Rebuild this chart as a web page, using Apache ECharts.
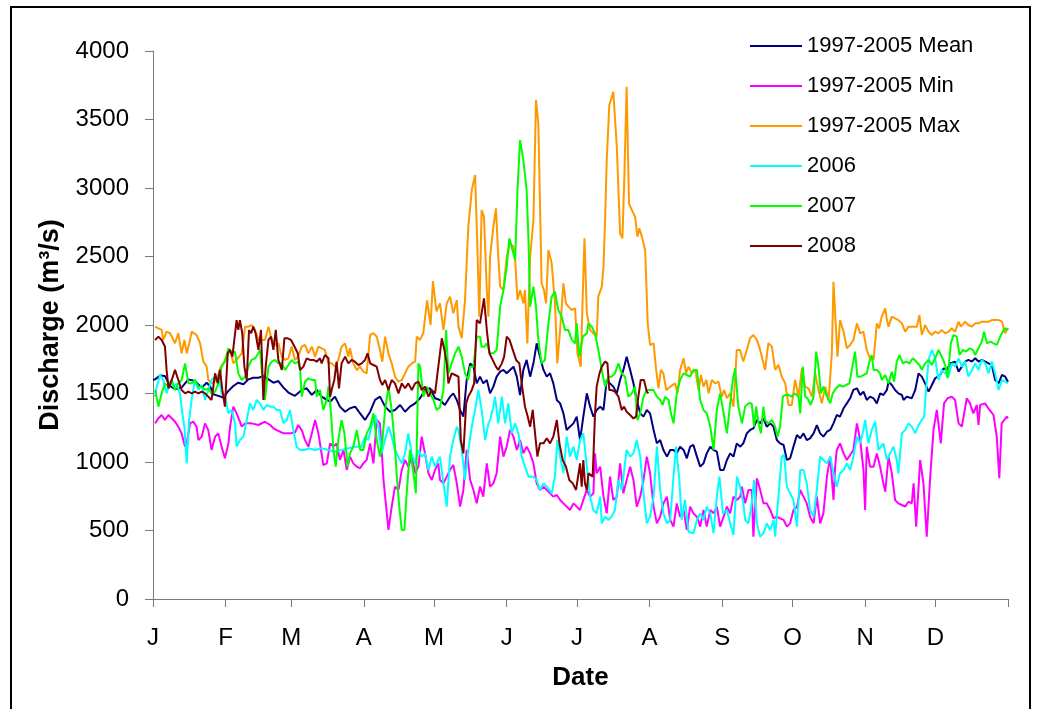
<!DOCTYPE html>
<html><head><meta charset="utf-8">
<script src="https://cdn.jsdelivr.net/npm/echarts@6/dist/echarts.min.js"></script>
<style>html,body{margin:0;padding:0;background:#fff}#c{width:1038px;height:709px}</style>
</head><body><div id="c"></div>
<script>
// Month starts (day of year) and tick labels
const monthStarts = [0,31,59,90,120,151,181,212,243,273,304,334];
const monthLabels = ['J','F','M','A','M','J','J','A','S','O','N','D'];
const tickDays = [0,31,59,90,120,151,181,212,243,273,304,334,365];
const seriesNames = ['1997-2005 Mean','1997-2005 Min','1997-2005 Max','2006','2007','2008'];

// [day of year, discharge m3/s]
const mean = [[0,1600],[0.9,1603],[3,1632],[5.1,1627],[7.3,1555],[9.4,1531],[12.2,1543],[15.1,1603],[17.9,1591],[20.8,1543],[22.9,1579],[24.3,1555],[25.8,1495],[27.9,1483],[30,1471],[32.2,1519],[34.3,1555],[36.4,1579],[38.6,1567],[40.7,1603],[42.8,1615],[45,1615],[47.1,1627],[49.3,1603],[51.4,1579],[53.5,1591],[55.7,1543],[57.8,1507],[60.6,1483],[63.5,1526],[65.6,1538],[67.8,1490],[69.9,1526],[72,1477],[74.2,1453],[75.6,1440],[77.7,1477],[79.8,1404],[82,1367],[84.1,1392],[86.3,1404],[88.4,1355],[90.5,1307],[92.7,1367],[94.8,1453],[96.9,1477],[99.1,1404],[101.2,1367],[103.3,1380],[105.5,1416],[107.6,1367],[109.7,1404],[111.9,1428],[114,1465],[116.1,1526],[118.3,1538],[120.4,1465],[122.5,1453],[124.6,1416],[126.8,1477],[128.2,1501],[129.7,1453],[131.1,1380],[132.5,1331],[133.9,1599],[135.4,1720],[136.8,1696],[138.2,1574],[139.6,1623],[141,1574],[142.5,1599],[143.9,1501],[145.3,1550],[146.7,1623],[148.2,1660],[149.6,1672],[151,1648],[152.4,1672],[153.9,1696],[155.3,1623],[156.7,1489],[158.1,1672],[159.5,1745],[161,1623],[162.4,1720],[163.8,1866],[165.2,1769],[166.7,1672],[168.1,1623],[169.5,1648],[170.9,1574],[172.4,1453],[173.8,1428],[175.2,1355],[176.6,1234],[178,1258],[179.5,1282],[180.9,1331],[182.3,1160],[183.7,1331],[185.2,1501],[186.6,1404],[188,1331],[189.4,1380],[190.9,1404],[192.3,1380],[193.7,1599],[195.1,1574],[196.5,1550],[198,1501],[199.4,1599],[200.8,1672],[202.2,1769],[203.7,1672],[205.1,1574],[206.5,1453],[208,1355],[209.4,1331],[210.8,1380],[212.2,1355],[213.7,1234],[215.1,1136],[216.5,1160],[217.9,1088],[219.4,1039],[220.8,1088],[222.2,1088],[223.6,1063],[225,1112],[226.5,1088],[227.9,1027],[229.3,1112],[230.7,1124],[232.2,1039],[233.6,966],[235,990],[236.4,1063],[237.9,1112],[239.3,1088],[240.7,1076],[242.1,942],[243.6,942],[245,1015],[246.4,1063],[247.8,1039],[249.2,1136],[250.7,1112],[252,1136],[253.5,1209],[254.9,1234],[256.3,1246],[257.8,1307],[259.2,1282],[260.6,1319],[262,1258],[263.5,1282],[264.9,1258],[266.3,1160],[267.7,1136],[269.2,1124],[270.6,1015],[272,1027],[273.4,1112],[274.9,1197],[276.3,1173],[277.7,1209],[279.1,1160],[280.5,1173],[282,1209],[283.4,1270],[284.8,1209],[286.2,1185],[287.7,1221],[289.1,1234],[290.5,1282],[291.9,1343],[293.3,1331],[294.8,1392],[296.2,1428],[297.6,1465],[299,1526],[300.5,1538],[301.9,1489],[303.3,1514],[304.7,1453],[306.1,1477],[307.6,1465],[309,1428],[310.4,1501],[311.8,1489],[313.3,1526],[314,1586],[315.4,1562],[316.8,1526],[318.2,1501],[319.7,1489],[320.4,1453],[321.8,1477],[323.9,1465],[325.4,1526],[326.8,1647],[328.2,1623],[329.6,1574],[331.1,1514],[332.5,1562],[333.9,1611],[336,1635],[337.5,1684],[338.9,1672],[340.3,1720],[342.4,1733],[343.9,1660],[345.3,1696],[346.7,1733],[348.1,1745],[349.6,1733],[351,1757],[352.4,1733],[353.8,1745],[355.3,1733],[356.7,1720],[358.1,1708],[359.5,1599],[361,1574],[362.4,1635],[363.8,1623],[365,1586]];

const minQ = [[0.9,1282],[2.3,1319],[3.7,1343],[5.1,1307],[6.6,1343],[8,1319],[9.4,1294],[10.8,1258],[12.2,1209],[13.7,1112],[14.4,1136],[15.8,1282],[17.2,1294],[18.6,1258],[19.4,1160],[20.8,1185],[22.2,1282],[23.6,1233],[25,1088],[26.5,1185],[27.9,1209],[29.3,1112],[30.7,1027],[32.2,1136],[32.9,1258],[34.3,1404],[35.7,1355],[37.1,1294],[37.9,1258],[39.3,1282],[42.1,1282],[45,1270],[47.8,1294],[50,1270],[51.4,1246],[52.8,1233],[54.2,1221],[55.7,1209],[58.5,1209],[60.6,1215],[62,1270],[63.5,1233],[64.9,1160],[66.3,1112],[67.8,1209],[69.2,1307],[70.6,1209],[71.3,1136],[72.7,978],[74.2,990],[75.6,1136],[77,1112],[78.4,1136],[79.8,1015],[81.3,1088],[82.7,942],[84.1,1039],[85.5,990],[87,966],[88.4,954],[89.8,990],[91.2,1015],[92.7,1136],[94.1,990],[95.5,1307],[96.9,1282],[98.4,869],[100.5,504],[101.9,674],[103.3,820],[104.8,796],[106.2,942],[107.6,1015],[109,966],[110.5,1039],[111.9,918],[113.3,966],[114.7,1185],[116.1,1063],[117.6,918],[119,869],[120.4,942],[121.8,990],[122.5,869],[124,844],[125.4,893],[126.8,942],[128.2,978],[129.7,844],[131.1,674],[132.5,796],[133.9,1088],[135.4,869],[136.8,796],[138.2,698],[139.6,820],[141,747],[142.5,990],[143.9,820],[145.3,844],[146.7,918],[148.2,1185],[149.6,1039],[151,1112],[152.4,1234],[153.9,1185],[155.3,1088],[156.7,1161],[158.1,1063],[159.5,1112],[161,1063],[162.4,990],[163.8,844],[165.2,796],[166.7,820],[168.1,796],[169.5,771],[170.9,747],[172.4,759],[173.8,723],[175.2,698],[176.6,674],[178,650],[179.5,698],[180.9,674],[182.3,650],[183.7,723],[185.2,796],[186.6,747],[188,771],[188.7,1063],[189.4,918],[190.9,966],[192.3,747],[193.7,625],[195.1,893],[196.5,723],[198,747],[199.4,990],[200.8,771],[202.2,869],[203.7,966],[205.1,869],[206.5,674],[208,747],[209.4,869],[210.8,1039],[212.2,918],[213.7,674],[215.1,552],[216.5,601],[217.9,698],[219.4,747],[220.8,577],[222.2,528],[223.6,698],[225,601],[226.5,650],[227.9,504],[229.3,674],[230.7,625],[232.2,601],[233.6,528],[235,650],[236.4,528],[237.9,650],[239.3,625],[240.7,674],[242.1,528],[243.6,601],[245,674],[246.4,625],[247.8,747],[249.3,723],[250.7,747],[251.4,820],[252.8,698],[254.2,796],[255.6,796],[256.3,455],[257.8,881],[259.2,796],[260.6,698],[262,698],[263.5,650],[264.9,589],[266.3,601],[267.7,589],[269.2,577],[270.6,528],[272,552],[273.4,650],[274.9,674],[276.3,796],[277.7,747],[279.1,698],[280.5,601],[282,552],[283.4,747],[284.8,552],[286.2,625],[287.7,893],[289.1,1039],[290.5,723],[291.2,966],[291.9,1088],[293.3,1136],[294.8,1063],[296.2,1015],[297.6,1051],[299,1088],[300.5,1282],[301.9,1160],[303.3,942],[304,650],[304.7,1112],[306.1,966],[307.6,966],[309,1063],[310.4,966],[311.8,844],[312.6,783],[314,1039],[315.4,917],[316.8,723],[318.2,698],[319.7,686],[321.1,674],[322.5,710],[323.9,698],[324.7,844],[325.8,528],[327.5,1015],[328.9,844],[330.3,455],[331.8,893],[333.2,1234],[334.6,1380],[336.3,1136],[337.7,1428],[339.2,1465],[341,1477],[342.4,1453],[343.9,1282],[345.3,1258],[347.4,1465],[348.8,1428],[350.2,1355],[351.7,1416],[352.4,1270],[353.1,1416],[355.2,1428],[356.6,1392],[358.8,1343],[360.2,1185],[361.3,881],[362.3,1282],[364.5,1331],[365,1319]];

const maxQ = [[0.9,1988],[2.3,1976],[3.7,1964],[4.4,1891],[5.8,1952],[7.3,1940],[9.4,1867],[10.8,1940],[12.2,1794],[13.4,1891],[14.4,1794],[15.5,1867],[16.5,1952],[18.6,1927],[20.1,1867],[21.5,1733],[22.9,1696],[23.6,1599],[25,1574],[27.2,1599],[28.6,1684],[30,1720],[31.5,1769],[32.9,1818],[34.3,1720],[35.7,1745],[37.9,1794],[39.3,1988],[40.7,1988],[42.1,2000],[43.6,1964],[45,1891],[46.4,1891],[47.8,1891],[49.3,1988],[50.7,1891],[52.1,1855],[53.5,1867],[55,1769],[56.4,1745],[57.8,1757],[59.2,1843],[60.6,1745],[62,1769],[63.5,1843],[64.9,1855],[66.3,1793],[67.8,1842],[69.2,1769],[70.6,1842],[72,1830],[73.4,1818],[74.9,1720],[76.3,1720],[77.7,1696],[79.1,1745],[80.5,1842],[82,1866],[83.4,1769],[84.1,1830],[85.5,1720],[87,1672],[88.4,1696],[89.8,1659],[91.2,1647],[92.7,1927],[94.1,1940],[95.5,1915],[96.9,1818],[97.9,1732],[99.1,1915],[100.5,1793],[101.9,1720],[103.3,1623],[104.8,1586],[106.2,1599],[107.6,1647],[109,1696],[110.5,1720],[111.9,1732],[112.6,1915],[114,1891],[115.4,1940],[117,2180],[118.5,2000],[119.5,2320],[121,2100],[122.5,2158],[124,1964],[125.4,2158],[126.8,2207],[128.2,2085],[129.7,2182],[130.4,1988],[131.8,1903],[133.2,2182],[134.6,2718],[136.1,2985],[137.5,3095],[138.5,2548],[139.3,2061],[140.3,2839],[141.3,2791],[142.5,2255],[143.2,2061],[143.9,2499],[145.3,2718],[146.4,2852],[147.4,2499],[148.2,2280],[149.6,2255],[151,2499],[152.4,2596],[153.9,2572],[154.6,2475],[155.6,2182],[156.7,2255],[158.1,2158],[158.8,2255],[159.8,1866],[161,2499],[162.4,2766],[163.5,3642],[164.5,3472],[165.9,2304],[166.9,2255],[167.8,2158],[168.8,2548],[170.2,2450],[171.6,2158],[172.6,1720],[173.8,1964],[175.2,2304],[176.3,2158],[177.3,2134],[178.8,2110],[180.2,2122],[181.2,1794],[182.6,1696],[183.4,2182],[184.2,2633],[185.2,2085],[186.6,1964],[188,1939],[189.4,1915],[190.1,2207],[191.6,2280],[192.3,2426],[193,2766],[193.7,3204],[194.8,3606],[196.5,3703],[198,3302],[199.4,2669],[200.4,2633],[201.2,3066],[202.2,3739],[203.2,2888],[204.4,2839],[205.8,2791],[206.8,2645],[207.6,2706],[208.7,2645],[210.1,2547],[211.2,2012],[212.2,1854],[213.7,1866],[214.8,1672],[215.8,1538],[216.8,1672],[217.9,1647],[219.1,1525],[220.8,1550],[222.9,1574],[223.9,1501],[225,1672],[226.5,1757],[227.6,1647],[228.6,1696],[230,1647],[231.5,1672],[232.9,1525],[233.9,1635],[235,1550],[236.2,1599],[237.2,1501],[238.6,1599],[240,1574],[241.4,1586],[242.8,1477],[243.8,1525],[245,1465],[246.4,1501],[247.8,1404],[249.2,1818],[250.6,1818],[252,1733],[253.5,1818],[254.9,1903],[256.3,1927],[257.8,1891],[259.2,1818],[259.9,1830],[261.3,1672],[262.7,1867],[264.2,1842],[265.6,1672],[267,1709],[268.4,1623],[269.9,1574],[271.3,1416],[272.7,1416],[274.1,1599],[275.6,1477],[277,1684],[278.4,1550],[279.8,1538],[281.3,1477],[282.7,1647],[284.1,1526],[285.5,1428],[287,1550],[288.4,1453],[289.8,1794],[290.5,2316],[291.2,2085],[292.2,1769],[293.3,2036],[294.8,1951],[296.2,1830],[297.6,1855],[299,1891],[300.5,2012],[301.9,1939],[303.3,1951],[304.7,1818],[306.1,1757],[307.6,1745],[309,2012],[310,1976],[311.1,2061],[312.6,2122],[313.3,2036],[314,1988],[315.4,2061],[316.8,2049],[318.2,2036],[319.7,2012],[321.1,1951],[322.5,1988],[324.7,1988],[326.1,1988],[327.2,2073],[328.2,1927],[329.6,2000],[331.1,1951],[332.5,1927],[333.9,1951],[335.3,1939],[336.7,1964],[338.2,1939],[339.6,1951],[341,1976],[342.4,1951],[343.9,2024],[344.9,1988],[346.7,2024],[348.1,2000],[349.6,1988],[351,2012],[352.4,2012],[353.8,2024],[355.3,2024],[356.7,2024],[358.1,2036],[359.5,2036],[361,2036],[362.4,2024],[363.8,1940],[364.8,1976],[365,1964]];

const y2006 = [[0.9,1477],[1.6,1550],[3,1635],[4.4,1599],[5.8,1501],[7.3,1586],[8.7,1550],[10.1,1574],[11.5,1501],[12.5,1355],[13.4,1258],[14.4,990],[15.4,1307],[16.5,1453],[17.9,1599],[19.4,1526],[20.8,1562],[22.2,1453],[23.6,1526],[25,1599],[26.5,1623],[27.9,1623],[29.3,1501],[30.7,1477],[32.2,1355],[33.6,1380],[35,1282],[35.7,1112],[37.1,1160],[38.6,1185],[40,1307],[41.4,1428],[42.8,1380],[44.3,1453],[45.7,1428],[47.1,1380],[48.5,1416],[50,1404],[51.4,1404],[52.8,1380],[54.2,1380],[55.7,1282],[57.1,1307],[58.5,1380],[59.9,1233],[61.3,1112],[62.8,1088],[64.9,1088],[66.3,1100],[69.2,1088],[72,1100],[74.9,1088],[77.7,1075],[80.5,1088],[83.4,1100],[86.2,1112],[89,1112],[90.5,1185],[91.9,1160],[93.3,1258],[94.8,1343],[96.2,1258],[97.6,1063],[99,1160],[100.5,1258],[101.9,1185],[103.3,1088],[104.7,1039],[106.2,990],[107.6,1063],[109,1209],[110.4,1063],[111.9,990],[113.3,1088],[114.7,1039],[116.1,1063],[117.6,942],[119,1039],[120.4,966],[121.8,1015],[122.5,1039],[124,844],[125.4,674],[126.8,1039],[128.2,1161],[129.7,1258],[130.4,1234],[131.8,1088],[133.2,869],[134.6,1088],[136.1,1258],[137.5,1380],[138.9,1526],[140.3,1380],[141.8,1161],[143.2,1282],[143.9,1307],[145.3,1404],[146,1477],[147.4,1282],[148.9,1477],[150.3,1282],[151.7,1428],[153.1,1209],[154.6,1282],[156,1209],[157.4,1039],[158.8,966],[160.3,893],[162.4,893],[163.8,869],[165.2,796],[166.7,844],[168.1,820],[170.2,771],[171.6,893],[172.6,1161],[173.8,1039],[175.2,918],[176.6,1185],[178,1039],[179.5,1112],[180.9,1015],[182.3,1160],[183.7,1209],[185.2,966],[186.6,747],[188,650],[189.4,625],[190.9,747],[191.6,552],[193,601],[194.4,577],[195.8,601],[197.2,650],[198.7,869],[200.1,796],[202.2,1088],[203.7,1039],[205.1,1063],[206.5,1160],[208,1039],[209.4,771],[210.8,552],[212.2,601],[213.7,747],[215.1,1112],[216.5,796],[217.9,625],[219.4,552],[220.8,577],[222.2,893],[223.3,1112],[224.7,869],[225.7,577],[227.1,723],[228.6,491],[230.7,479],[232.2,577],[233.6,625],[235,577],[236.4,674],[237.9,625],[239.3,479],[240.7,747],[241.8,893],[243.3,625],[245,650],[246.4,552],[247.8,467],[249.3,893],[250.6,820],[252,698],[252.8,577],[254.2,552],[255.6,698],[256.6,869],[257.8,552],[259.2,455],[260.6,479],[262,552],[263.5,504],[264.9,577],[265.6,455],[267,747],[268.4,1039],[269.4,1051],[270.6,820],[272,771],[273.4,723],[274.9,528],[276.3,942],[277.7,942],[279.1,844],[280.5,650],[282,601],[283.4,796],[284.8,1039],[286.2,1015],[287.7,990],[289.1,1039],[290.5,918],[291.9,820],[293.3,918],[294.8,942],[296.2,990],[297.6,942],[299,1039],[300.5,1185],[301.9,1136],[303.3,1233],[304,1307],[305.4,1136],[306.8,1233],[308.3,1294],[309.7,1088],[311.8,1136],[313.3,1015],[314.7,1063],[316.1,1112],[317.5,1015],[318.2,917],[319.7,1209],[321.1,1233],[322.5,1282],[323.9,1258],[325.4,1209],[326.8,1270],[328.2,1307],[329.2,1331],[330,1526],[331.1,1745],[332.5,1818],[333.9,1757],[335.3,1599],[336.7,1672],[338.2,1647],[339.6,1623],[341,1720],[342.4,1696],[343.9,1757],[345.3,1696],[346.7,1733],[348.1,1623],[349.6,1672],[351,1720],[352.4,1672],[353.8,1745],[355.3,1720],[356.7,1647],[358.1,1733],[359.5,1647],[361,1526],[362.4,1599],[363.8,1586],[365,1574]];

const y2007 = [[0.9,1526],[2.3,1404],[3.7,1501],[5.1,1574],[6.6,1550],[8,1599],[9.4,1526],[10.8,1574],[12.2,1599],[13.7,1720],[14.4,1720],[15.1,1574],[16.5,1574],[17.9,1599],[19.4,1550],[20.8,1550],[22.2,1526],[23.6,1538],[25,1501],[26.5,1514],[27.9,1574],[29.3,1696],[30.7,1733],[32.2,1830],[33.6,1794],[35,1806],[36.4,1647],[37.9,1599],[39.3,1623],[40.7,1696],[42.1,1745],[43.6,1757],[45,1794],[45.7,1818],[46.4,1672],[47.8,1453],[49.3,1696],[50.7,1733],[52.1,1745],[53.5,1720],[55,1720],[56.4,1672],[57.8,1708],[59.2,1745],[60.6,1720],[62,1732],[62.8,1672],[63.5,1477],[64.9,1586],[66.3,1611],[67.8,1599],[69.2,1599],[69.9,1477],[71.3,1526],[72,1453],[72.7,1380],[74.2,1453],[74.9,1550],[76,1355],[77,1088],[78,966],[79.1,1160],[80.5,1307],[81.7,1209],[83.1,966],[84.1,1063],[85.5,1112],[87,1233],[88.4,1088],[89.8,1088],[91.2,1209],[92.7,1258],[94.1,1355],[95.5,1160],[96.9,1039],[97.9,1160],[99.1,1380],[100.5,1550],[101.9,1380],[103.3,1112],[104,918],[105,698],[106.2,504],[107.3,504],[108.3,771],[109.7,1088],[111.2,918],[112.2,771],[113.3,1720],[114,1696],[115.4,1477],[116.9,1550],[118.3,1501],[119.7,1453],[121.1,1380],[122.5,1400],[124,1526],[125.1,1964],[126.1,1647],[127.5,1720],[129,1794],[130.4,1842],[131.8,1769],[133.2,1647],[134.6,1599],[135.4,1696],[136.8,1696],[138.2,1915],[139.6,1915],[140.3,1842],[141.5,1842],[142.5,1866],[143.9,1794],[145.3,1794],[146.7,1818],[148.2,2134],[149.6,2255],[151,2426],[152.1,2633],[153.1,2572],[154.6,2475],[155.6,2985],[156.7,3350],[158.1,3204],[159.5,2985],[160.3,2621],[161,2134],[162.4,2280],[163.5,2134],[164.5,1891],[165.9,1720],[167.3,1745],[168.8,2012],[170.2,2207],[171.6,2243],[173,2110],[174.5,2061],[175.9,1964],[177.3,1964],[178.8,1891],[180.2,1866],[180.9,2012],[182,1769],[183.5,1915],[185.2,1939],[185.9,2012],[187.3,1988],[188.7,1939],[190.1,1818],[191.6,1672],[193,1550],[194.4,1623],[195.8,1623],[197.2,1647],[198.7,1720],[200.1,1647],[201.5,1623],[202.9,1477],[204.4,1501],[205.8,1550],[206.8,1306],[208,1355],[209.4,1477],[210.8,1525],[212.2,1525],[213.7,1525],[215.1,1477],[216.5,1453],[217.6,1416],[218.6,1477],[220.1,1453],[221.1,1355],[222.2,1282],[223.6,1501],[225,1599],[226.5,1647],[227.9,1635],[229.3,1623],[230.7,1672],[232.2,1672],[233.6,1453],[235,1380],[236.4,1355],[237.9,1258],[239.3,1088],[240.7,1380],[242.1,1501],[243.6,1355],[245,1209],[246.4,1428],[247.5,1599],[248.5,1684],[249.9,1404],[251.4,1282],[252.8,1404],[254.2,1428],[255.6,1428],[256.6,1258],[257.5,1404],[258.5,1282],[259.5,1209],[260.6,1404],[261.3,1307],[262.7,1282],[264.2,1307],[265.6,1258],[266.6,1185],[267.7,1258],[268.9,1477],[269.9,1489],[271.3,1489],[272.7,1477],[274.1,1501],[275.6,1477],[276.3,1355],[277.4,1696],[278.4,1477],[279.4,1465],[280.8,1416],[282,1477],[283.1,1806],[284.1,1696],[285.1,1501],[286.2,1550],[287.7,1477],[289.1,1428],[290.2,1501],[291.6,1538],[293.1,1562],[294.5,1550],[295.9,1562],[297.3,1574],[298.8,1720],[299.7,1806],[300.7,1623],[302.1,1623],[303.3,1635],[304.7,1647],[305.8,1733],[306.8,1781],[307.6,1672],[309,1672],[310.4,1647],[311.1,1599],[312.6,1635],[314,1574],[315.4,1659],[316.4,1586],[317.5,1733],[318.7,1781],[320.1,1720],[321.5,1733],[322.9,1720],[324.4,1757],[325.8,1733],[327.2,1708],[328.2,1672],[329.6,1720],[331.1,1745],[332.5,1708],[333.9,1757],[335.3,1818],[336.7,1769],[338.2,1708],[339.2,1611],[340.6,1866],[341.7,1927],[343.1,1915],[344.3,1781],[345.7,1818],[347.1,1806],[348.6,1830],[350,1818],[351,1781],[352.4,1830],[353.8,1878],[354.8,1951],[356,1866],[357.4,1878],[358.8,1866],[360.2,1855],[361.7,1915],[362.7,1951],[363.8,1976],[365,1964]];

const y2008 = [[0.9,1891],[2.3,1915],[3.7,1891],[5.1,1843],[5.8,1672],[6.6,1538],[8,1599],[9.4,1672],[10.1,1684],[10.8,1599],[12.2,1526],[13.7,1501],[15.1,1514],[16.5,1501],[17.9,1514],[19.4,1501],[20.8,1514],[22.2,1501],[23.6,1477],[25,1453],[26.5,1647],[27.6,1574],[28.6,1672],[29.6,1526],[30.7,1404],[31.9,1794],[32.9,1818],[33.9,1769],[34.7,1891],[35.7,2036],[36.4,1964],[37.1,2036],[38.1,1940],[39,1696],[40,1599],[41,1964],[41.9,1940],[42.8,1988],[43.8,1940],[45,1818],[46.1,1964],[47.1,1453],[48.1,1696],[49.3,1891],[50.4,1915],[51.4,1818],[52.4,1964],[53.5,1745],[55,1672],[56.1,1903],[57.5,1903],[58.9,1891],[60.4,1843],[61.8,1794],[62.8,1672],[64.2,1696],[65.6,1757],[67,1745],[68.5,1745],[69.9,1732],[71.3,1757],[72,1720],[73.4,1781],[74.9,1757],[75.6,1477],[76.6,1550],[77.4,1599],[78.4,1732],[79.4,1538],[80.5,1720],[82,1769],[83.4,1720],[84.8,1745],[86.2,1732],[87.7,1708],[89.1,1720],[90.5,1745],[91.6,1793],[92.7,1720],[94.1,1708],[95.5,1696],[96.9,1599],[97.9,1562],[99.1,1599],[100.5,1526],[101.9,1599],[103.3,1574],[104.8,1501],[106.2,1574],[107.6,1538],[109,1574],[110.5,1526],[111.9,1574],[113.3,1586],[114.7,1526],[116.1,1550],[117.6,1477],[119,1526],[120.4,1501],[121.8,1696],[123.3,1903],[124.4,1818],[125.4,1720],[126.1,1574],[127.5,1647],[129,1635],[130.4,1623],[131.4,1161],[132.5,1063],[133.7,1428],[134.6,1477],[136.1,1526],[137.1,1574],[138.2,2036],[139.6,2012],[141.3,2195],[142.5,1964],[143.6,1794],[145,1745],[146.4,1696],[147.4,1672],[148.9,1720],[149.9,1769],[151,1915],[152.2,1891],[153.6,1818],[155,1745],[156.4,1720],[157.4,1574],[158.8,1404],[159.8,1343],[161,1258],[162.1,1380],[163.1,1209],[164.1,1039],[165.2,1136],[166.7,1136],[168.1,1173],[169.5,1136],[170.9,1185],[172.4,1307],[173.5,1136],[174.9,1015],[176.3,966],[177.7,869],[179.2,844],[180.6,796],[182.3,990],[183,820],[183.7,1015],[184.4,844],[185.2,796],[185.9,917],[186.6,905],[187.7,893],[188.7,1355],[189.4,1550],[190.6,1647],[191.6,1696],[193,1733],[194,1720],[194.8,1525],[195.8,1525],[197.2,1513],[198.7,1477],[200.1,1380],[201.1,1404],[202.2,1367],[203.7,1343],[205.1,1318],[206.2,1331],[207.2,1477],[208.2,1599],[209.6,1599],[210.8,1513],[211.5,1501]];

const FONT = "'Liberation Sans', Arial, Helvetica, sans-serif";
const colors = ['#000080','#FF00FF','#FF9900','#00FFFF','#00FF00','#800000'];
const seriesData = [mean, minQ, maxQ, y2006, y2007, y2008];

const chart = echarts.init(document.getElementById('c'), null, {renderer: 'canvas'});
chart.setOption({
  animation: false,
  backgroundColor: '#ffffff',
  textStyle: {fontFamily: FONT},
  graphic: [{
    type: 'rect', silent: true, z: 100,
    shape: {x: 11, y: 7, width: 1019, height: 720},
    style: {fill: 'none', stroke: '#000000', lineWidth: 2}
  }],
  grid: {left: 153, right: 30, top: 51, bottom: 110, containLabel: false},
  legend: {
    orient: 'vertical', left: 750, top: 35, padding: 0, selectedMode: false,
    icon: 'rect', itemWidth: 52, itemHeight: 2, itemGap: 18,
    data: seriesNames,
    textStyle: {fontSize: 22, lineHeight: 22, color: '#000', fontFamily: FONT}
  },
  xAxis: {
    type: 'value', min: 0, max: 365,
    axisLine: {show: true, onZero: false, lineStyle: {color: '#7a7a7a', width: 1}},
    axisTick: {show: true, length: 8, customValues: tickDays, lineStyle: {color: '#7a7a7a'}},
    axisLabel: {
      fontSize: 24, color: '#000', margin: 27, fontFamily: FONT,
      customValues: monthStarts,
      formatter: function (v) { const i = monthStarts.indexOf(Math.round(v)); return i >= 0 ? monthLabels[i] : ''; }
    },
    splitLine: {show: false},
    name: 'Date', nameLocation: 'middle', nameGap: 66,
    nameTextStyle: {fontSize: 26, fontWeight: 'bold', color: '#000', fontFamily: FONT}
  },
  yAxis: {
    type: 'value', min: 0, max: 4000, interval: 500,
    axisLine: {show: true, lineStyle: {color: '#7a7a7a', width: 1}},
    axisTick: {show: true, length: 8, lineStyle: {color: '#7a7a7a'}},
    axisLabel: {fontSize: 24, color: '#000', margin: 24, fontFamily: FONT,
      formatter: function (v) { return String(v); }},
    splitLine: {show: false},
    name: 'Discharge (m³/s)', nameLocation: 'middle', nameGap: 89, nameRotate: 90,
    nameTextStyle: {fontSize: 27, fontWeight: 'bold', color: '#000', fontFamily: FONT}
  },
  series: seriesNames.map(function (name, i) {
    return {
      name: name, type: 'line', data: seriesData[i],
      showSymbol: false, symbol: 'none', smooth: false,
      color: colors[i],
      lineStyle: {color: colors[i], width: 2},
      emphasis: {disabled: true}
    };
  })
});
</script>
</body></html>
